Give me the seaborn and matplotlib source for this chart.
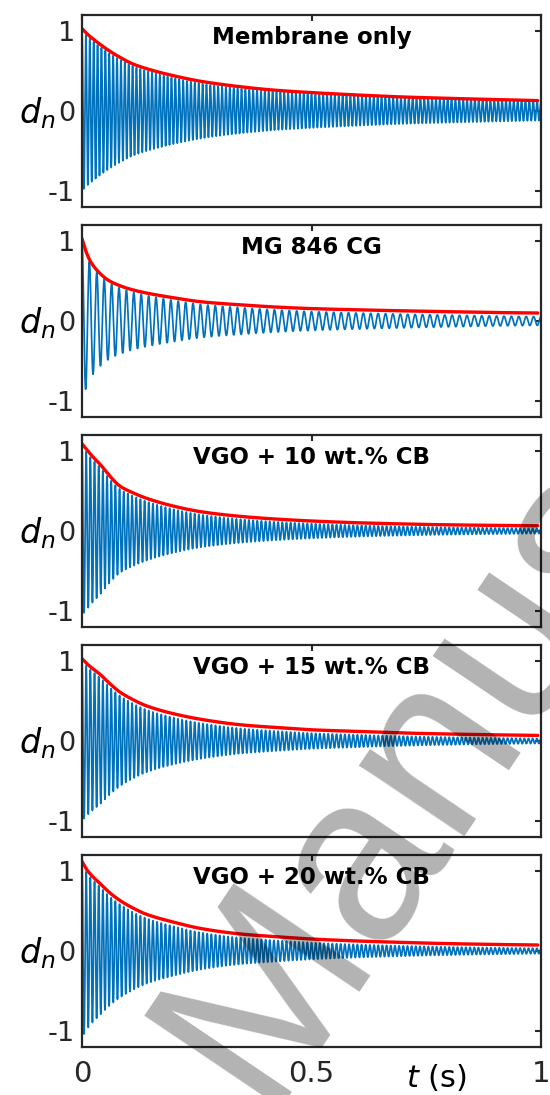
import numpy as np
import pandas as pd
import matplotlib
matplotlib.use("Agg")
import matplotlib.pyplot as plt
import seaborn as sns

# ---------------- data ----------------
titles = ["Membrane only", "MG 846 CG", "VGO + 10 wt.% CB",
          "VGO + 15 wt.% CB", "VGO + 20 wt.% CB"]

# sample times (s) of the red decay envelope
env_t = [0.0, 0.01, 0.02, 0.04, 0.06, 0.083, 0.11, 0.14, 0.2, 0.26,
         0.35, 0.42, 0.5, 0.6, 0.7, 0.8, 0.9, 0.993]

env_membrane = [1.03, 0.97, 0.92, 0.83, 0.75, 0.67, 0.59, 0.53, 0.44, 0.37,
                0.30, 0.26, 0.23, 0.20, 0.175, 0.158, 0.143, 0.13]
env_mg846 = [1.03, 0.85, 0.73, 0.59, 0.50, 0.44, 0.39, 0.35, 0.29, 0.24,
             0.20, 0.175, 0.155, 0.14, 0.127, 0.116, 0.106, 0.10]
env_vgo10 = [1.09, 1.02, 0.95, 0.83, 0.69, 0.56, 0.48, 0.41, 0.31, 0.24,
             0.18, 0.15, 0.125, 0.103, 0.088, 0.077, 0.07, 0.065]
env_vgo15 = [1.03, 0.97, 0.92, 0.83, 0.72, 0.61, 0.52, 0.44, 0.34, 0.27,
             0.20, 0.17, 0.14, 0.12, 0.10, 0.087, 0.077, 0.07]
env_vgo20 = [1.12, 1.02, 0.95, 0.84, 0.73, 0.63, 0.54, 0.46, 0.36, 0.28,
             0.21, 0.18, 0.15, 0.125, 0.107, 0.092, 0.082, 0.075]
envelopes = [env_membrane, env_mg846, env_vgo10, env_vgo15, env_vgo20]

# oscillation frequency (Hz) of the blue signal in each panel
freqs = [118, 62, 110, 110, 110]

# blue amplitude relative to the red envelope at a few times
ratio_t = [0.0, 0.3, 1.0]
ratio_membrane = [0.97, 0.92, 0.92]
ratio_mg846 = [0.97, 0.85, 0.55]
ratio_vgo10 = [0.97, 0.83, 0.5]
ratio_vgo15 = [0.97, 0.8, 0.45]
ratio_vgo20 = [0.97, 0.8, 0.45]
ratios = [ratio_membrane, ratio_mg846, ratio_vgo10, ratio_vgo15, ratio_vgo20]

y_ticks = [-1, 0, 1]
y_tick_labels = ["-1", "0", "1"]
x_ticks = [0, 0.5, 1]
x_tick_labels = ["0", "0.5", "1"]


def pchip(xk, yk, x):
    """Monotone cubic (Fritsch-Carlson) through the read points."""
    xk = np.asarray(xk, float)
    yk = np.asarray(yk, float)
    h = np.diff(xk)
    d = np.diff(yk) / h
    m = np.zeros_like(yk)
    for k in range(1, len(xk) - 1):
        if d[k - 1] * d[k] > 0:
            w1 = 2 * h[k] + h[k - 1]
            w2 = h[k] + 2 * h[k - 1]
            m[k] = (w1 + w2) / (w1 / d[k - 1] + w2 / d[k])
    m[0] = d[0]
    m[-1] = d[-1]
    idx = np.clip(np.searchsorted(xk, x) - 1, 0, len(h) - 1)
    s = (x - xk[idx]) / h[idx]
    h00 = 2 * s**3 - 3 * s**2 + 1
    h10 = s**3 - 2 * s**2 + s
    h01 = -2 * s**3 + 3 * s**2
    h11 = s**3 - s**2
    return (h00 * yk[idx] + h10 * h[idx] * m[idx]
            + h01 * yk[idx + 1] + h11 * h[idx] * m[idx + 1])


# ---------------- styling ----------------
sns.set_style("white")
plt.rcParams["font.family"] = ["DejaVu Sans"]
plt.rcParams["mathtext.fontset"] = "dejavusans"

BLUE = "#0072BD"
RED = "#FF0000"
DARK = "#262626"

W, H = 550, 1095
fig = plt.figure(figsize=(W / 100, H / 100), dpi=100)

left = 82 / W
width = (541 - 82) / W
ph = 192 / H
tops = [15, 225, 435, 645, 855]

t = np.linspace(0, 1, 8001)
t_env = np.linspace(env_t[0], env_t[-1], 600)

for i, top in enumerate(tops):
    ax = fig.add_axes([left, 1 - (top + 192) / H, width, ph])
    env = envelopes[i]
    amp = pchip(env_t, env, np.clip(t, 0, env_t[-1])) * np.interp(t, ratio_t, ratios[i])
    sig = amp * np.cos(2 * np.pi * freqs[i] * t)
    df_sig = pd.DataFrame({"t": t, "d": sig})
    df_env = pd.DataFrame({"t": t_env, "d": pchip(env_t, env, t_env)})
    sns.lineplot(data=df_sig, x="t", y="d", ax=ax, color=BLUE, lw=1.25,
                 estimator=None, sort=False)
    sns.lineplot(data=df_env, x="t", y="d", ax=ax, color=RED, lw=2.4,
                 estimator=None, sort=False)

    ax.set_xlim(0, 1)
    ax.set_ylim(-1.2, 1.2)
    ax.set_yticks(y_ticks)
    ax.set_yticklabels(y_tick_labels)
    ax.set_xticks(x_ticks)
    if i == len(tops) - 1:
        ax.set_xticklabels(x_tick_labels)
        ax.set_xlabel("$t$ (s)", fontsize=22, color="black")
        ax.xaxis.label.set_va("center")
        ax.xaxis.set_label_coords(0.771, -0.158)
    else:
        ax.set_xticklabels([])
        ax.set_xlabel("")
    ax.tick_params(direction="in", length=4, width=1.5, colors=DARK,
                   labelsize=19.5, top=True, right=True, pad=5,
                   labelcolor=DARK)
    ax.tick_params(axis="x", pad=9, labelsize=21)
    for s in ax.spines.values():
        s.set_visible(True)
        s.set_color(DARK)
        s.set_linewidth(1.6)
    ax.set_ylabel("$d_n$", fontsize=24, rotation=0, color="black",
                  va="center", ha="center")
    ax.yaxis.set_label_coords(-0.098, 0.49)
    ax.text(0.5, 0.885, titles[i], transform=ax.transAxes, ha="center",
            va="center", fontsize=16.5, fontweight="bold", color="black")

# watermark
fig.text(262 / W, 1 - 1108 / H, "Manuscript", rotation=56,
         rotation_mode="anchor", ha="left", va="baseline", fontsize=172,
         family="Liberation Sans", color="black", alpha=0.3, zorder=10)

fig.savefig("out.png", dpi=100)
